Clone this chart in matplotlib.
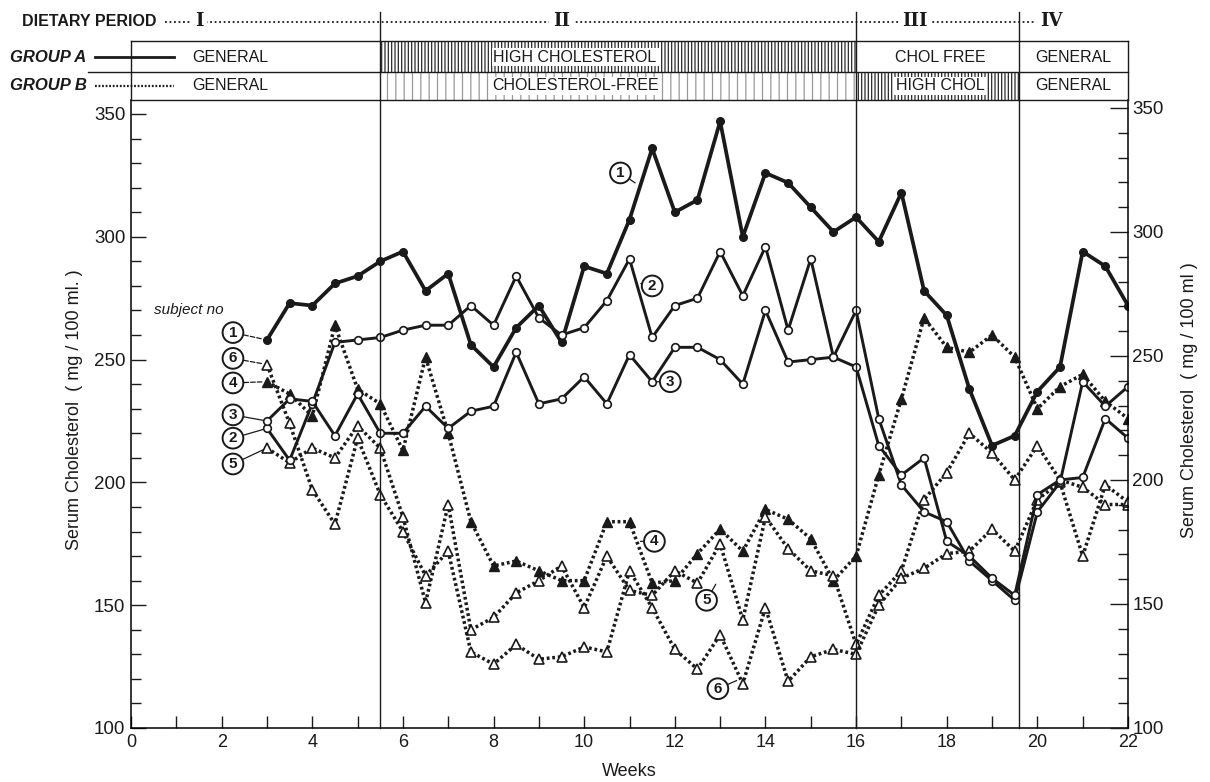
import matplotlib
matplotlib.use('Agg')
import matplotlib.pyplot as plt
import matplotlib.transforms as mtransforms
from matplotlib.patches import Rectangle
from matplotlib.lines import Line2D
from matplotlib.ticker import MultipleLocator

plt.rcParams['font.family'] = ['Liberation Sans', 'DejaVu Sans']
plt.rcParams['hatch.linewidth'] = 0.9

# ---------------- data ----------------
weeks = [3, 3.5, 4, 4.5, 5, 5.5, 6, 6.5, 7, 7.5,
         8, 8.5, 9, 9.5, 10, 10.5, 11, 11.5, 12, 12.5,
         13, 13.5, 14, 14.5, 15, 15.5, 16, 16.5, 17, 17.5,
         18, 18.5, 19, 19.5, 20, 20.5, 21, 21.5, 22]

subject1 = [258, 273, 272, 281, 284, 290, 294, 278, 285, 256,
            247, 263, 272, 257, 288, 285, 307, 336, 310, 315,
            347, 300, 326, 322, 312, 302, 308, 298, 318, 278,
            268, 238, 215, 219, 237, 247, 294, 288, 272]
subject2 = [222, 209, 232, 257, 258, 259, 262, 264, 264, 272,
            264, 284, 267, 260, 263, 274, 291, 259, 272, 275,
            294, 276, 296, 262, 291, 251, 270, 226, 199, 188,
            184, 168, 160, 152, 188, 200, 241, 231, 239]
subject3 = [225, 234, 233, 219, 236, 220, 220, 231, 222, 229,
            231, 253, 232, 234, 243, 232, 252, 241, 255, 255,
            250, 240, 270, 249, 250, 251, 247, 215, 203, 210,
            176, 170, 161, 154, 195, 201, 202, 226, 218]
subject4 = [241, 236, 227, 264, 238, 232, 213, 251, 220, 184,
            166, 168, 164, 160, 160, 184, 184, 159, 160, 171,
            181, 172, 189, 185, 177, 160, 170, 203, 234, 267,
            255, 253, 260, 251, 230, 239, 244, 233, 226]
subject5 = [214, 208, 214, 210, 223, 214, 186, 151, 191, 140,
            145, 155, 160, 166, 149, 170, 156, 154, 164, 159,
            175, 144, 186, 173, 164, 162, 134, 154, 164, 193,
            204, 220, 212, 201, 215, 201, 198, 191, 191]
subject6 = [248, 224, 197, 183, 218, 195, 180, 162, 172, 131,
            126, 134, 128, 129, 133, 131, 164, 149, 132, 124,
            138, 118, 149, 119, 129, 132, 130, 150, 161, 165,
            171, 172, 181, 172, 193, 200, 170, 199, 192]

period_bounds = [5.5, 16, 19.6]
period_labels = ['I', 'II', 'III', 'IV']
period_label_x = [1.5, 9.5, 17.3, 20.3]
group_a_diets = ['GENERAL', 'HIGH CHOLESTEROL', 'CHOL FREE', 'GENERAL']
group_b_diets = ['GENERAL', 'CHOLESTEROL-FREE', 'HIGH CHOL', 'GENERAL']
diet_label_x = [2.2, 9.8, 17.85, 20.8]

# ---------------- figure ----------------
W, H = 1210, 782
fig = plt.figure(figsize=(W / 100, H / 100), dpi=100)

def fy(p):
    return 1 - p / H

ax_left_px, ax_right_px, ax_bot_px, ax_top_px = 131, 1128, 728, 100
ax = fig.add_axes([ax_left_px / W, fy(ax_bot_px),
                   (ax_right_px - ax_left_px) / W, (ax_bot_px - ax_top_px) / H])
ax.set_xlim(0, 22)
ax.set_ylim(100, 100 + (ax_bot_px - ax_top_px) / 2.456)

ink = '#1a1a1a'
dot = (0, (0.8, 0.8))

ax.plot(weeks, subject1, '-', color=ink, lw=2.7, marker='o', ms=5.5,
        mfc=ink, mec=ink, zorder=5)
for s in (subject2, subject3):
    ax.plot(weeks, s, '-', color=ink, lw=2.1, marker='o', ms=5.5,
            mfc='white', mec=ink, mew=1.2, zorder=5)
ax.plot(weeks, subject4, linestyle=dot, color=ink, lw=2.5, marker='^', ms=7.5,
        mfc=ink, mec=ink, zorder=4)
for s in (subject5, subject6):
    ax.plot(weeks, s, linestyle=dot, color=ink, lw=2.5, marker='^', ms=7.5,
            mfc='white', mec=ink, mew=1.2, zorder=4)

# axes styling
ax.spines['top'].set_visible(False)
ax.spines['right'].set_visible(False)
ax.spines['left'].set_linewidth(1.1)
ax.spines['bottom'].set_linewidth(1.1)
ax.set_xticks(range(0, 23, 2))
ax.xaxis.set_minor_locator(MultipleLocator(1))
ax.set_yticks(range(100, 351, 50))
ax.yaxis.set_minor_locator(MultipleLocator(10))
ax.tick_params(which='major', direction='in', length=11, width=1.0,
               labelsize=13.5, colors=ink, pad=4)
ax.tick_params(which='minor', direction='in', length=7, width=1.0, colors=ink)
ax.tick_params(axis='x', which='major', length=9, labelsize=13, pad=4)
ax.tick_params(axis='x', which='minor', length=9)

ax2 = ax.twinx()
ax2.set_ylim(100, 350 + (108 - ax_top_px) / 2.48)
ax2.set_yticks(range(100, 351, 50))
ax2.yaxis.set_minor_locator(MultipleLocator(10))
ax2.tick_params(which='major', direction='in', length=13, width=1.0,
                labelsize=13.5, colors=ink, pad=3)
ax2.tick_params(which='minor', direction='in', length=7, width=1.0, colors=ink)
for sp in ('top', 'left', 'bottom'):
    ax2.spines[sp].set_visible(False)
ax2.spines['right'].set_linewidth(1.1)

# period separators (through header)
trans = mtransforms.blended_transform_factory(ax.transData, fig.transFigure)
for xb in period_bounds:
    fig.add_artist(Line2D([xb, xb], [fy(ax_bot_px), fy(12)], transform=trans,
                          color=ink, lw=1.0))

# header box
box_top, box_mid, box_bot = 41, 72, ax_top_px
row_a, row_b, row_d = 57, 86, 21
fig.add_artist(Rectangle((5.5, fy(box_mid)), 10.5, fy(box_top) - fy(box_mid),
                         transform=trans, fill=False, hatch='|||||',
                         edgecolor='#2a2a2a', lw=0))
fig.add_artist(Rectangle((16, fy(box_bot)), 3.6, fy(box_mid) - fy(box_bot),
                         transform=trans, fill=False, hatch='|||||',
                         edgecolor='#2a2a2a', lw=0))
fig.add_artist(Rectangle((5.5, fy(box_bot)), 10.5, fy(box_mid) - fy(box_bot),
                         transform=trans, fill=False, hatch='||',
                         edgecolor='#9a9a9a', lw=0))
for yy, x0 in ((box_top, 0), (box_mid, -0.95), (box_bot, 0)):
    fig.add_artist(Line2D([x0, 22], [fy(yy), fy(yy)], transform=trans,
                          color=ink, lw=1.0))
for xx in (0, 22):
    fig.add_artist(Line2D([xx, xx], [fy(box_bot), fy(box_top)], transform=trans,
                          color=ink, lw=1.0))

for x, a, b in zip(diet_label_x, group_a_diets, group_b_diets):
    fig.text(x, fy(row_a), a, transform=trans, ha='center', va='center',
             fontsize=11.5, color=ink,
             bbox=dict(boxstyle='square,pad=0.12', fc='white', ec='none'))
    fig.text(x, fy(row_b), b, transform=trans, ha='center', va='center',
             fontsize=11.5, color=ink,
             bbox=dict(boxstyle='square,pad=0.12', fc='white', ec='none'))

# dietary period row
fig.text(22 / W, fy(row_d), 'DIETARY PERIOD', fontsize=11.5, fontweight='bold',
         va='center', ha='left', color=ink)
fig.add_artist(Line2D([0.75, 20.1], [fy(row_d + 1), fy(row_d + 1)], transform=trans,
                      color=ink, lw=1.3, linestyle=(0, (1, 1.5))))
for x, lab in zip(period_label_x, period_labels):
    fig.text(x, fy(row_d), lab, transform=trans, ha='center', va='center',
             fontsize=13, fontweight='bold', family='DejaVu Serif', color=ink,
             bbox=dict(boxstyle='square,pad=0.2', fc='white', ec='none'))

# group rows
fig.text(10 / W, fy(row_a), 'GROUP A', fontsize=12, fontweight='bold',
         style='italic', va='center', ha='left', color=ink)
fig.add_artist(Line2D([-0.8, 0.95], [fy(row_a), fy(row_a)], transform=trans,
                      color=ink, lw=2.0))
fig.text(10 / W, fy(row_b), 'GROUP B', fontsize=12, fontweight='bold',
         style='italic', va='center', ha='left', color=ink)
fig.add_artist(Line2D([-0.8, 0.95], [fy(row_b), fy(row_b)], transform=trans,
                      color=ink, lw=1.6, linestyle=(0, (0.8, 0.8))))

# subject labels
ax.text(0.5, 270, 'subject no', style='italic', fontsize=11, color=ink,
        va='center', ha='left')
circ = dict(boxstyle='circle,pad=0.22', fc='white', ec=ink, lw=1.4)

def label(num, xy, xytext, ls='-'):
    ax.annotate(num, xy=xy, xytext=xytext, ha='center', va='center',
                fontsize=11, fontweight='bold', color=ink, bbox=circ,
                arrowprops=dict(arrowstyle='-', lw=0.9, color=ink, ls=ls,
                                shrinkA=0, shrinkB=3), zorder=7)

label('1', (weeks[0], subject1[0]), (2.25, 261), ls='--')
label('6', (weeks[0], subject6[0]), (2.25, 250.5), ls='--')
label('4', (weeks[0], subject4[0]), (2.25, 240.5), ls='--')
label('3', (weeks[0], subject3[0]), (2.25, 227.5))
label('2', (weeks[0], subject2[0]), (2.25, 218))
label('5', (weeks[0], subject5[0]), (2.25, 207.5))

label('1', (11.2, 321), (10.8, 326))
label('2', (11.25, 281), (11.5, 280))
label('3', (11.5, 241), (11.9, 241))
label('4', (11.15, 176), (11.55, 176))
label('5', (12.95, 160), (12.7, 152))
label('6', (13.45, 120), (12.95, 116))

# axis labels
fig.text(75 / W, fy(410), 'Serum Cholesterol  ( mg / 100 ml. )', rotation=90,
         ha='center', va='center', fontsize=13, color=ink)
fig.text(1190 / W, fy(400), 'Serum Cholesterol  ( mg / 100 ml )', rotation=90,
         ha='center', va='center', fontsize=13, color=ink)
fig.text((ax_left_px + 11 * (ax_right_px - ax_left_px) / 22) / W, fy(772),
         'Weeks', ha='center', va='center', fontsize=13, color=ink)

fig.savefig('out.png', dpi=100, facecolor='white')
